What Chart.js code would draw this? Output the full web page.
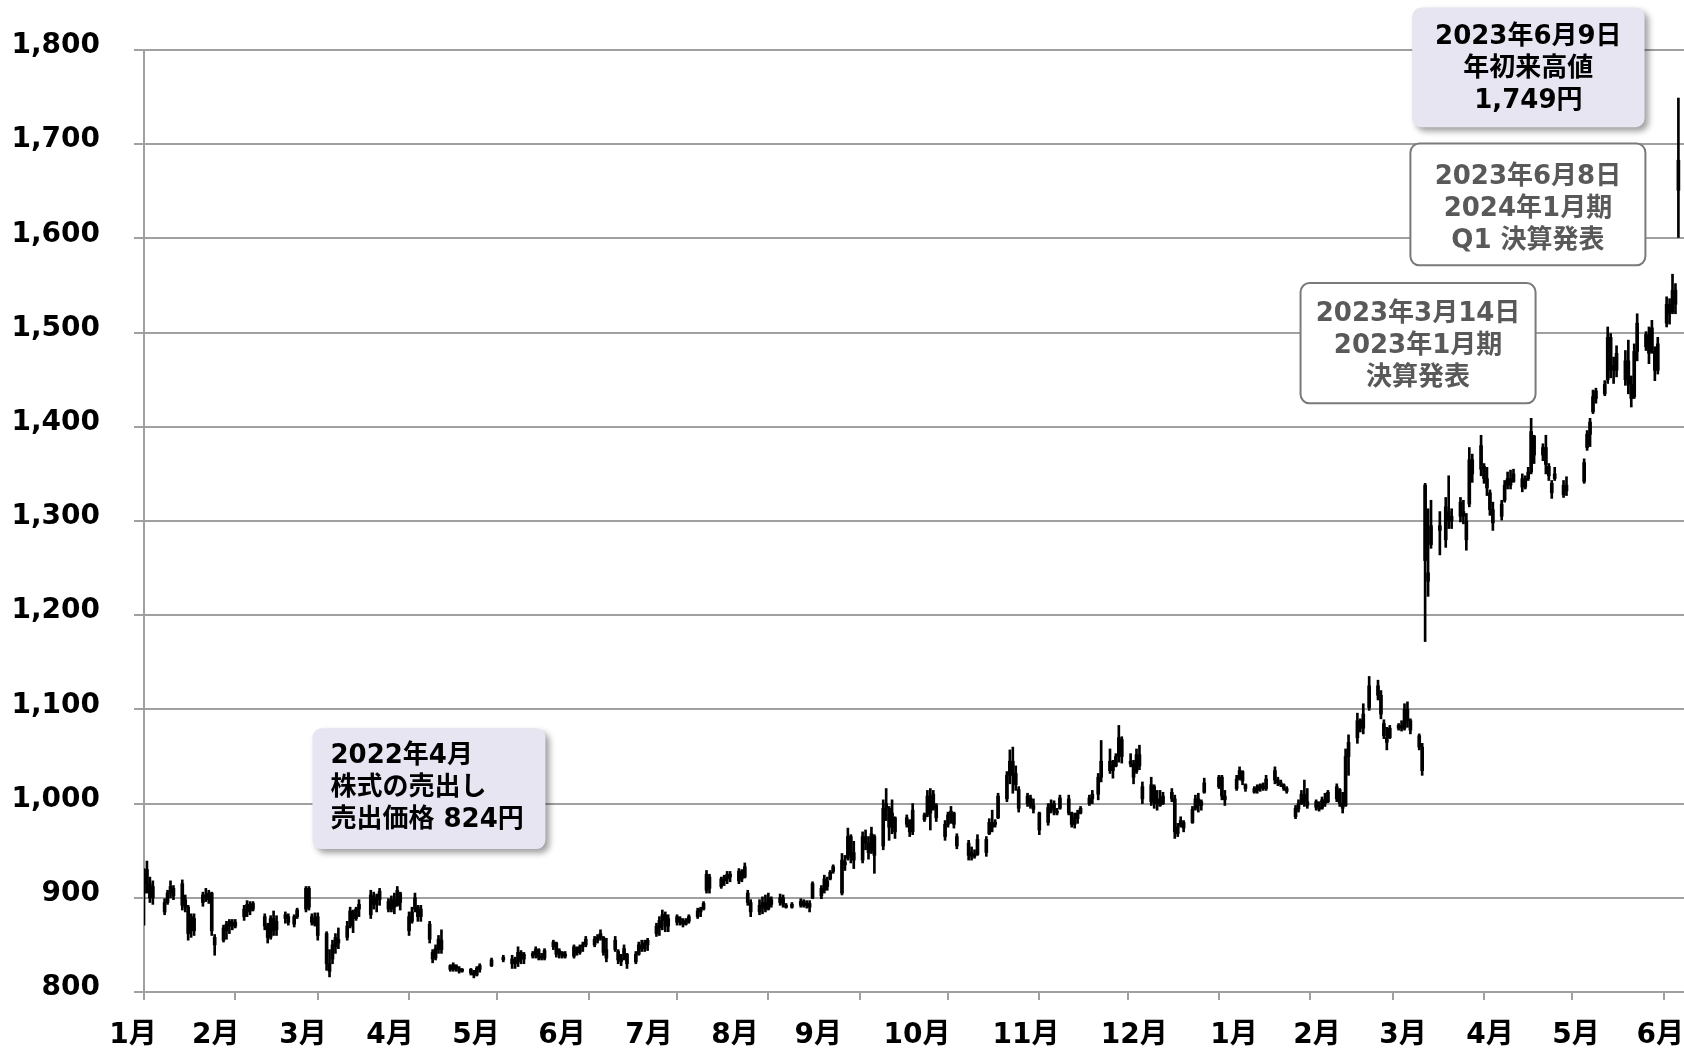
<!DOCTYPE html>
<html lang="ja">
<head>
<meta charset="utf-8">
<title>株価推移</title>
<script src="https://cdn.jsdelivr.net/npm/chart.js@4.4.0/dist/chart.umd.min.js"></script>
<style>
  html, body { margin: 0; padding: 0; background: #fff; }
  #wrap { width: 1684px; height: 1048px; position: relative; }
</style>
</head>
<body>
<div id="wrap"><canvas id="mycanvas"></canvas></div>
<script>
// trading days, counted in calendar days from 2022-01-04
var days = [
  0,1,2,3,7,8,9,10,13,14,15,16,17,20,21,22,23,24,27,
  28,29,30,31,34,35,36,37,41,42,43,44,45,48,49,51,52,55,
  56,57,58,59,62,63,64,65,66,69,70,71,72,73,77,78,79,80,83,84,85,86,
  87,90,91,92,93,94,97,98,99,100,101,104,105,106,107,108,111,112,113,114,
  118,122,125,126,127,128,129,132,133,134,135,136,139,140,141,142,143,146,147,
  148,149,150,153,154,155,156,157,160,161,162,163,164,167,168,169,170,171,174,175,176,177,
  178,181,182,183,184,185,188,189,190,191,192,196,197,198,199,202,203,204,205,206,
  209,210,211,212,213,216,217,218,220,223,224,225,226,227,230,231,232,233,234,237,238,239,
  240,241,244,245,246,247,248,251,252,253,254,255,259,260,261,265,266,267,268,269,
  272,273,274,275,276,280,281,282,283,286,287,288,289,290,293,294,295,296,297,300,
  301,302,304,307,308,309,310,311,314,315,316,317,318,321,322,324,325,328,329,330,
  331,332,335,336,337,338,339,342,343,344,345,346,349,350,351,352,353,356,357,358,359,360,
  365,366,367,371,372,373,374,377,378,379,380,381,384,385,386,387,388,391,392,
  393,394,395,398,399,400,401,402,405,406,407,408,409,412,413,414,416,419,420,
  421,422,423,426,427,428,429,430,433,434,435,436,437,440,442,443,444,447,448,449,450,451,
  454,455,456,457,458,461,462,463,464,465,468,469,470,471,472,475,476,477,478,479,
  482,483,489,490,491,492,493,496,497,498,499,500,503,504,505,506,507,510,511,512,
  513,514,517,518,519,520,521
];

var opens = [
  905,930,915,900,885,895,905,910,915,898,890,865,878,895,903,898,905,858,855,
  865,870,874,870,880,885,893,888,880,870,858,878,866,878,880,872,880,888,
  910,880,872,880,862,830,835,848,856,858,870,885,878,888,882,902,893,898,896,888,898,892,
  905,880,875,888,890,880,872,842,836,845,855,828,824,828,825,822,824,820,818,824,
  828,834,835,830,832,842,835,838,840,845,838,836,848,852,840,842,838,838,846,
  842,848,850,850,855,858,858,845,855,843,832,836,840,832,840,850,846,850,862,868,876,882,
  870,874,878,874,872,875,880,885,888,908,922,912,918,920,925,918,928,922,905,895,
  885,890,895,888,898,895,900,892,890,892,896,892,894,900,902,908,918,920,928,905,938,942,
  965,948,940,965,958,950,965,955,995,995,975,985,978,982,970,983,988,1008,995,998,
  965,978,988,990,965,958,944,946,946,948,968,980,978,985,1005,1030,1045,1032,1015,1000,
  1006,998,990,980,995,1000,992,995,1005,990,978,984,990,1000,1005,1010,1028,1045,1035,1040,
  1050,1068,1045,1042,1034,1052,1018,1002,1018,1000,1005,1000,1012,1005,968,976,980,980,995,1005,998,1012,
  1018,1028,1008,1016,1026,1034,1020,1012,1014,1016,1018,1016,1035,1025,1022,1020,1016,986,994,
  1000,1010,1002,1002,996,995,1004,1002,1005,1015,1000,998,1050,1070,1088,1080,1102,1125,1115,
  1085,1070,1070,1080,1083,1080,1100,1088,1072,1060,1338,1245,1275,1290,1280,1310,1300,1320,1305,1300,1318,1365,
  1355,1358,1345,1330,1312,1305,1322,1338,1345,1342,1345,1336,1345,1352,1390,1370,1378,1358,1340,1345,
  1328,1338,1342,1378,1392,1416,1430,1435,1450,1495,1460,1460,1450,1470,1445,1432,1480,1485,1498,1480,
  1480,1460,1510,1530,1522,1545,1683
];

var highs = [
  931,939,922,918,899,908,918,913,919,903,892,883,883,906,910,908,906,861,871,
  875,877,877,877,892,897,896,896,883,873,881,886,881,885,883,882,889,912,
  912,883,884,884,864,845,855,862,868,875,890,887,890,898,908,906,904,910,899,902,905,912,
  906,885,890,905,892,892,875,845,850,860,866,829,831,829,827,825,825,823,827,830,
  836,839,839,837,848,844,842,843,848,846,841,846,855,853,846,843,843,850,848,
  850,853,859,859,861,866,859,857,859,845,840,850,841,843,853,855,855,857,873,880,887,885,
  882,882,880,878,878,882,889,890,896,929,925,922,924,928,928,931,930,937,908,898,
  898,901,903,905,901,904,903,894,895,899,898,897,897,917,913,924,922,929,935,947,945,974,
  967,960,970,972,965,975,967,1004,1016,997,1004,986,988,983,1000,990,1014,1016,1014,1000,
  982,991,997,991,968,961,954,951,967,965,984,993,983,1011,1034,1057,1060,1040,1018,1011,
  1009,1005,991,1000,1004,1003,995,1009,1009,991,990,993,997,1009,1014,1032,1067,1058,1046,1053,
  1083,1071,1053,1046,1058,1062,1023,1028,1020,1014,1014,1012,1016,1009,979,986,982,997,1009,1011,1004,1027,
  1030,1030,1014,1030,1039,1035,1021,1018,1020,1021,1022,1030,1039,1028,1025,1021,1018,998,1004,
  1014,1025,1016,1004,1002,1007,1011,1014,1021,1016,1012,1058,1073,1096,1090,1106,1135,1131,1120,
  1089,1081,1083,1085,1088,1106,1108,1090,1074,1064,1340,1313,1322,1310,1325,1348,1313,1325,1322,1308,1378,1371,
  1391,1361,1357,1333,1320,1322,1343,1352,1354,1355,1350,1348,1357,1409,1391,1382,1391,1361,1343,1357,
  1343,1347,1366,1396,1409,1439,1441,1449,1506,1499,1474,1486,1481,1492,1454,1488,1520,1501,1506,1513,
  1485,1495,1538,1536,1562,1552,1749
];

var lows = [
  871,905,895,893,882,893,900,898,887,885,855,858,860,891,896,894,860,839,853,
  856,862,866,868,876,880,882,886,866,852,856,860,860,873,871,869,878,885,
  887,871,870,855,823,816,830,841,846,855,868,863,876,880,878,888,885,892,885,885,883,891,
  887,860,873,885,875,875,852,831,834,841,841,822,822,822,820,821,818,815,817,821,
  827,832,825,825,827,830,830,836,836,834,834,834,845,837,836,836,836,836,839,
  840,843,848,848,852,855,839,832,843,830,828,834,825,830,839,843,843,844,859,860,866,864,
  864,871,871,869,871,873,878,880,887,905,905,910,913,915,917,915,917,921,892,880,
  882,883,885,887,890,892,890,889,889,890,890,889,885,899,899,905,908,919,926,903,929,940,
  937,931,937,951,941,947,926,951,982,961,968,963,975,965,967,981,986,972,993,981,
  961,975,979,974,952,940,940,942,945,944,967,970,975,984,1002,1021,1011,1014,991,997,
  995,990,967,977,990,988,988,994,988,975,974,979,989,998,1000,1004,1023,1032,1027,1039,
  1044,1043,1039,1021,1032,1036,1000,998,995,993,997,999,1002,963,965,975,970,979,993,991,993,1011,
  1016,1004,998,1014,1025,1020,1013,1011,1011,1013,1014,1014,1021,1019,1018,1014,1011,984,991,
  999,997,995,993,992,994,997,1001,1002,997,990,997,1030,1064,1076,1074,1099,1110,1090,
  1069,1057,1069,1078,1077,1078,1081,1074,1057,1030,1172,1220,1271,1264,1272,1292,1292,1299,1297,1269,1315,1341,
  1348,1340,1327,1306,1290,1301,1320,1334,1334,1341,1331,1334,1343,1350,1361,1364,1350,1343,1324,1343,
  1325,1327,1340,1375,1379,1414,1425,1433,1446,1452,1446,1453,1444,1435,1421,1430,1470,1481,1467,1478,
  1449,1456,1506,1509,1520,1520,1601
];

var closes = [
  925,915,900,912,895,905,912,902,892,890,862,880,865,903,900,905,865,850,868,
  872,875,870,874,888,893,886,894,870,858,878,865,875,882,874,880,887,910,
  890,874,878,860,830,822,850,858,852,870,886,878,888,893,903,893,900,907,888,898,890,908,
  895,865,885,900,880,888,856,835,846,856,845,824,829,825,822,824,820,818,825,828,
  834,837,830,834,842,835,840,841,845,837,836,844,853,840,844,838,840,848,842,
  848,850,856,856,858,862,842,836,845,834,836,846,830,840,850,846,852,855,870,876,882,870,
  878,880,874,872,876,880,886,888,894,925,910,920,922,925,922,928,920,933,895,885,
  892,895,888,900,893,900,893,890,893,896,892,894,890,915,910,920,912,927,933,940,935,965,
  945,940,965,958,948,968,945,995,1000,975,990,970,985,970,993,988,1008,990,1010,985,
  978,988,992,978,955,945,948,944,962,962,980,975,980,1008,1030,1045,1030,1020,995,1008,
  998,994,972,996,1000,992,990,1006,990,978,985,990,995,1006,1010,1028,1045,1035,1040,1050,
  1070,1050,1042,1028,1052,1040,1005,1020,1000,1005,998,1008,1005,970,975,982,974,994,1005,998,1002,1022,
  1028,1008,1004,1026,1035,1024,1016,1016,1018,1020,1016,1026,1025,1022,1020,1016,1013,995,1000,
  1010,1002,998,996,994,1004,1000,1012,1018,1000,995,1050,1065,1088,1080,1095,1125,1115,1095,
  1072,1065,1080,1083,1080,1100,1088,1078,1060,1035,1258,1236,1295,1295,1315,1300,1305,1305,1310,1280,1365,1350,
  1380,1345,1335,1312,1298,1318,1338,1345,1338,1350,1336,1345,1352,1395,1370,1378,1360,1348,1330,1350,
  1338,1332,1362,1392,1405,1432,1438,1445,1495,1460,1465,1478,1470,1445,1430,1480,1510,1498,1478,1505,
  1460,1488,1530,1520,1545,1530,1651
];

// month tick marks (same day offset), and where the month names sit under them
var tickDays = [0,31,59,90,120,151,181,212,243,273,304,334,365,396,424,455,485,516];
var labelDays = [-3.7,24.4,54.0,83.5,112.7,141.9,171.5,200.7,228.9,262.5,299.5,336.2,370.1,398.3,427.5,457.0,486.2,514.8];
var monthLabels = ['1月','2月','3月','4月','5月','6月','7月','8月','9月','10月','11月','12月','1月','2月','3月','4月','5月','6月'];

// callout texts
var noteSale = ['2022年4月', '株式の売出し', '売出価格 824円'];
var noteHigh = ['2023年6月9日', '年初来高値', '1,749円'];
var noteQ1 = ['2023年6月8日', '2024年1月期', 'Q1 決算発表'];
var noteFY = ['2023年3月14日', '2023年1月期', '決算発表'];

var FONT = '"DejaVu Sans", "Noto Sans CJK JP", sans-serif';
var GRID = '#a0a0a0';
var X_MAX = 522.9;

var wicks = days.map(function(d, i) { return { x: d, y: [lows[i], highs[i]] }; });
var bodies = days.map(function(d, i) {
  return { x: d, y: [Math.min(opens[i], closes[i]), Math.max(opens[i], closes[i])] };
});

// boxes are placed in axis units (x: days, y: yen)
var notes = [
  { lines: noteSale, x0: 57.2, x1: 136.3, y0: 1080, y1: 951.7, fill: '#e6e5f1', shadow: true,
    color: '#000', align: 'left', dy: 0 },
  { lines: noteHigh, x0: 430.6, x1: 509.5, y0: 1845, y1: 1718, fill: '#e6e5f1', shadow: true,
    color: '#000', align: 'center', dy: 2 },
  { lines: noteQ1, x0: 430.0, x1: 509.8, y0: 1700.8, y1: 1571.4, fill: '#fff', border: '#7a7a7a',
    color: '#595959', align: 'center', dy: 5 },
  { lines: noteFY, x0: 392.7, x1: 472.5, y0: 1552.6, y1: 1424.9, fill: '#fff', border: '#7a7a7a',
    color: '#595959', align: 'center', dy: 3 }
];

var notePlugin = {
  id: 'notes',
  afterDraw: function(chart) {
    var ctx = chart.ctx, xs = chart.scales.x, ys = chart.scales.y;
    notes.forEach(function(n) {
      var l = xs.getPixelForValue(n.x0), r = xs.getPixelForValue(n.x1);
      var t = ys.getPixelForValue(n.y0), b = ys.getPixelForValue(n.y1);
      ctx.save();
      ctx.beginPath();
      ctx.roundRect(l, t, r - l, b - t, 9);
      if (n.shadow) {
        ctx.shadowColor = 'rgba(0,0,0,0.38)';
        ctx.shadowBlur = 6;
        ctx.shadowOffsetX = 4;
        ctx.shadowOffsetY = 4;
      }
      ctx.fillStyle = n.fill;
      ctx.fill();
      ctx.shadowColor = 'transparent';
      if (n.border) {
        ctx.lineWidth = 2;
        ctx.strokeStyle = n.border;
        ctx.stroke();
      }
      ctx.font = 'bold 26px ' + FONT;
      ctx.fillStyle = n.color;
      ctx.textBaseline = 'middle';
      ctx.textAlign = n.align;
      var tx = n.align === 'left' ? l + 18 : (l + r) / 2;
      var mid = (t + b) / 2 + n.dy;
      n.lines.forEach(function(line, i) {
        ctx.fillText(line, tx, mid + (i - (n.lines.length - 1) / 2) * 32);
      });
      ctx.restore();
    });
  }
};

var ctx = document.getElementById('mycanvas');

new Chart(ctx, {
  type: 'bar',
  data: {
    datasets: [
      { label: 'body', data: bodies, backgroundColor: '#000', barThickness: 3, minBarLength: 2, grouped: false },
      { label: 'wick', data: wicks, backgroundColor: '#000', barThickness: 2, grouped: false }
    ]
  },
  options: {
    responsive: true,
    maintainAspectRatio: false,
    animation: false,
    devicePixelRatio: 1,
    layout: { padding: { top: 50, left: 0, right: 0, bottom: 0 } },
    plugins: {
      legend: { display: false },
      tooltip: { enabled: false }
    },
    scales: {
      // tick marks only
      x: {
        type: 'linear',
        position: 'bottom',
        weight: 0,
        min: 0,
        max: X_MAX,
        offset: false,
        grid: { offset: false, drawOnChartArea: false, color: GRID, lineWidth: 2, tickLength: 8 },
        border: { color: GRID, width: 2 },
        afterBuildTicks: function(axis) {
          axis.ticks = tickDays.map(function(v) { return { value: v }; });
        },
        afterFit: function(axis) {
          axis.height = 8;
          axis.paddingLeft = 0;
          axis.paddingRight = 0;
        },
        ticks: { display: false }
      },
      // month names
      xl: {
        type: 'linear',
        position: 'bottom',
        weight: 1,
        min: 0,
        max: X_MAX,
        offset: false,
        grid: { display: false, drawTicks: false },
        border: { display: false },
        afterBuildTicks: function(axis) {
          axis.ticks = labelDays.map(function(v) { return { value: v }; });
        },
        afterFit: function(axis) {
          axis.height = 48;
          axis.paddingLeft = 0;
          axis.paddingRight = 0;
        },
        ticks: {
          autoSkip: false,
          maxRotation: 0,
          padding: 19,
          color: '#000',
          font: { family: FONT, size: 28, weight: 'bold' },
          callback: function(v, i) { return monthLabels[i]; }
        }
      },
      y: {
        min: 800,
        max: 1800,
        grid: { color: GRID, lineWidth: 2, tickLength: 10 },
        border: { color: GRID, width: 2 },
        afterFit: function(axis) {
          axis.width = 144;
          axis.paddingTop = 0;
          axis.paddingBottom = 0;
        },
        ticks: {
          stepSize: 100,
          padding: 34,
          labelOffset: -4,
          color: '#000',
          font: { family: FONT, size: 28, weight: 'bold' },
          callback: function(v) { return v.toLocaleString('en-US'); }
        }
      }
    }
  },
  plugins: [notePlugin]
});
</script>
</body>
</html>
